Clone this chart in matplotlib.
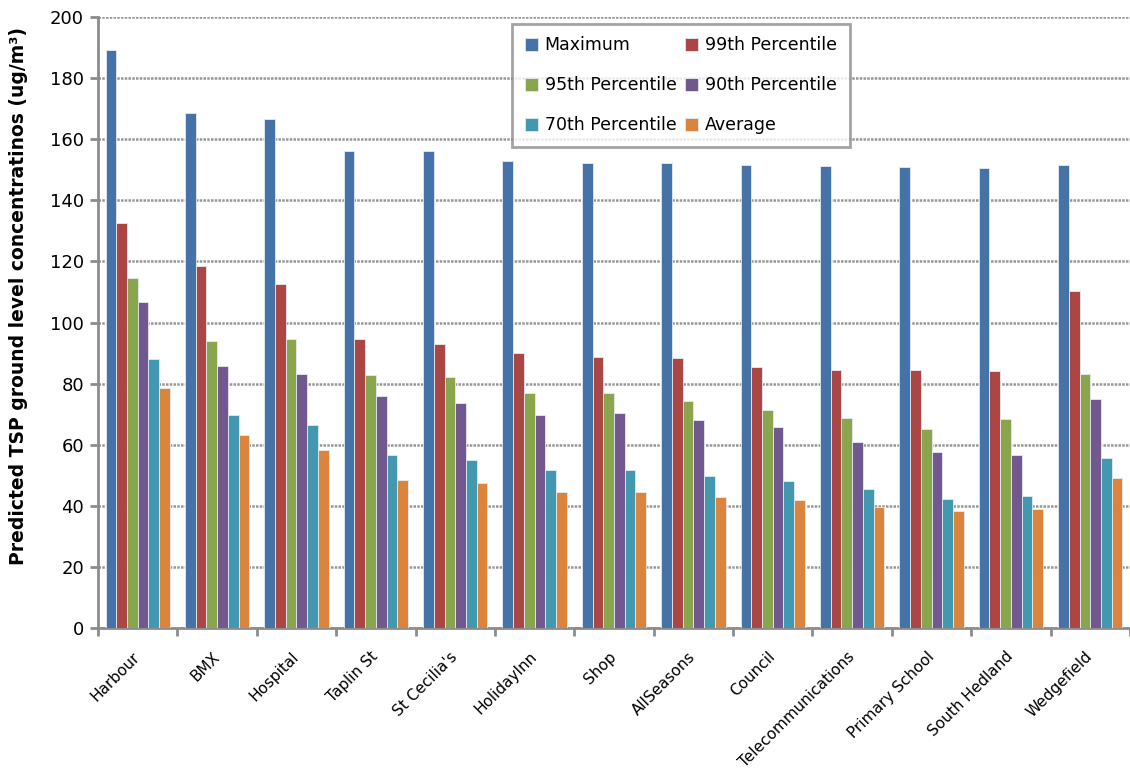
import numpy as np
import matplotlib
matplotlib.use('Agg')
import matplotlib.pyplot as plt

# receptor sites along the x axis
sites = ['Harbour', 'BMX', 'Hospital', 'Taplin St', "St Cecilia's", 'HolidayInn',
         'Shop', 'AllSeasons', 'Council', 'Telecommunications', 'Primary School',
         'South Hedland', 'Wedgefield']

# predicted TSP (ug/m3) per statistic
maximum = [189.2, 168.5, 166.5, 156.0, 156.0, 153.0, 152.2, 152.1, 151.7, 151.2, 150.9, 150.5, 151.7]
p99 = [132.5, 118.5, 112.5, 94.5, 93.0, 90.0, 88.8, 88.4, 85.5, 84.3, 84.3, 84.0, 110.2]
p95 = [114.5, 94.0, 94.5, 82.7, 82.0, 77.0, 77.0, 74.4, 71.3, 68.8, 65.2, 68.4, 83.1]
p90 = [106.7, 85.7, 83.2, 76.0, 73.7, 69.7, 70.5, 68.1, 65.7, 60.8, 57.7, 56.5, 74.9]
p70 = [88.0, 69.7, 66.5, 56.5, 55.0, 51.7, 51.7, 49.8, 48.1, 45.4, 42.1, 43.3, 55.6]
average = [78.5, 63.3, 58.2, 48.5, 47.3, 44.5, 44.5, 43.0, 41.8, 39.7, 38.3, 39.0, 49.0]

series = [maximum, p99, p95, p90, p70, average]
names = ['Maximum', '99th Percentile', '95th Percentile', '90th Percentile',
         '70th Percentile', 'Average']
colors = ['#4572A7', '#AA4643', '#89A54E', '#71588F', '#4198AF', '#DB843D']

fig = plt.figure(figsize=(11.3, 7.76), dpi=100)
ax = fig.add_axes([98/1130, 148/776, 1032/1130, 611/776])

x = np.arange(len(sites))
w = 0.135
bars = []
for i, vals in enumerate(series):
    b = ax.bar(x + (i - 2.5) * w, vals, w, color=colors[i], edgecolor='#e4ebf3',
               linewidth=0.6, label=names[i], zorder=3)
    bars.append(b)

ax.set_xlim(-0.5, len(sites) - 0.5)
ax.set_ylim(0, 200)
ax.set_yticks(range(0, 201, 20))
ax.yaxis.grid(True, color='#969696', linestyle=(0, (1, 0.5)), linewidth=1.8, zorder=0)

# category ticks sit on the group boundaries, labels at group centres
ax.set_xticks(np.arange(-0.5, len(sites), 1.0))
ax.set_xticklabels([])
ax.set_xticks(x, minor=True)
ax.set_xticklabels(sites, minor=True, rotation=45, ha='right', va='center',
                   rotation_mode='anchor', fontsize=11)
ax.tick_params(axis='x', which='minor', length=0, pad=19)
ax.tick_params(axis='x', which='major', length=6, width=2, color='#8c8c8c')
ax.tick_params(axis='y', length=6, width=2, color='#8c8c8c', labelsize=13, pad=4)

for s in ['top', 'right']:
    ax.spines[s].set_visible(False)
for s in ['left', 'bottom']:
    ax.spines[s].set_color('#8c8c8c')
    ax.spines[s].set_linewidth(2)

ax.set_ylabel('Predicted TSP ground level concentratinos (ug/m³)', fontsize=13.5,
              fontweight='bold')
ax.yaxis.set_label_coords(-0.068, 0.543)

# legend filled row by row like the original
order = [0, 2, 4, 1, 3, 5]
leg = ax.legend([bars[i] for i in order], [names[i] for i in order], ncol=2,
                loc='upper left', bbox_to_anchor=(0.393, 1.003),
                fontsize=12.5, frameon=True, fancybox=False, edgecolor='#8c8c8c',
                handlelength=0.75, handleheight=0.75, handletextpad=0.4,
                columnspacing=0.5, labelspacing=1.27, borderpad=0.72)
leg.get_frame().set_linewidth(2)

fig.savefig('out.png', dpi=100)
